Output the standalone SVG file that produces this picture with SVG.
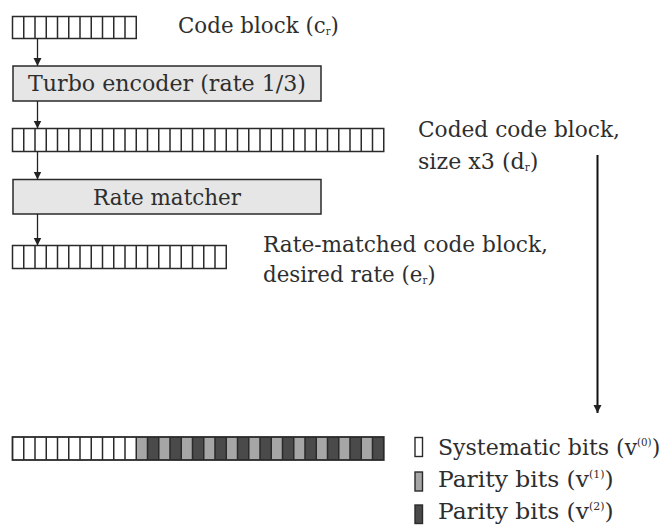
<svg xmlns="http://www.w3.org/2000/svg" width="666" height="525" viewBox="0 0 666 525">
  <style>
    .cells { fill: #ffffff; stroke: #2a2a2a; stroke-width: 1.5; }
    .div { stroke: #2a2a2a; stroke-width: 1.5; fill: none; }
    .box { fill: #e6e6e6; stroke: #2a2a2a; stroke-width: 1.5; }
    .lbl { font-family: "DejaVu Serif", "Liberation Serif", serif; font-size: 22.5px; fill: #2e2e2e; }
    .small { font-size: 10.5px; }
    .conn { stroke: #222222; stroke-width: 1.3; fill: none; }
    .conn-long { stroke: #111111; stroke-width: 2; fill: none; }
    .lt { fill: #a6a6a6; }
    .dk { fill: #4a4a4a; }
  </style>
  <defs>
    <marker id="head" markerUnits="userSpaceOnUse" markerWidth="8" markerHeight="11" refX="8" refY="4" orient="auto">
      <path d="M0,0 L8,4 L0,8 Z" fill="#222222"/>
    </marker>
  </defs>

  <!-- code block c_r : 11 bits -->
  <g id="code-block">
    <rect class="cells" x="12.5" y="16.5" width="123.75" height="22"/>
    <path class="div" d="M23.75,16.5v22M35,16.5v22M46.25,16.5v22M57.5,16.5v22M68.75,16.5v22M80,16.5v22M91.25,16.5v22M102.5,16.5v22M113.75,16.5v22M125,16.5v22"/>
    <text class="lbl" transform="translate(178,33) scale(0.95,1)">Code block (c<tspan class="small" dy="2">r</tspan><tspan dy="-2">)</tspan></text>
  </g>

  <!-- turbo encoder -->
  <g id="turbo-encoder">
    <rect class="box" x="13" y="66" width="308" height="35"/>
    <text class="lbl" x="167" y="90.5" text-anchor="middle" textLength="278" lengthAdjust="spacingAndGlyphs">Turbo encoder (rate 1/3)</text>
  </g>

  <!-- coded code block d_r : 33 bits -->
  <g id="coded-block">
    <rect class="cells" x="12.5" y="128.5" width="371.25" height="23"/>
    <path class="div" d="M23.75,128.5v23M35,128.5v23M46.25,128.5v23M57.5,128.5v23M68.75,128.5v23M80,128.5v23M91.25,128.5v23M102.5,128.5v23M113.75,128.5v23M125,128.5v23M136.25,128.5v23M147.5,128.5v23M158.75,128.5v23M170,128.5v23M181.25,128.5v23M192.5,128.5v23M203.75,128.5v23M215,128.5v23M226.25,128.5v23M237.5,128.5v23M248.75,128.5v23M260,128.5v23M271.25,128.5v23M282.5,128.5v23M293.75,128.5v23M305,128.5v23M316.25,128.5v23M327.5,128.5v23M338.75,128.5v23M350,128.5v23M361.25,128.5v23M372.5,128.5v23"/>
    <text class="lbl" x="418" y="137" textLength="202" lengthAdjust="spacingAndGlyphs">Coded code block,</text>
    <text class="lbl" transform="translate(418,168.5) scale(0.985,1)">size x3 (d<tspan class="small" dy="2">r</tspan><tspan dy="-2">)</tspan></text>
  </g>

  <!-- rate matcher -->
  <g id="rate-matcher">
    <rect class="box" x="13" y="179.5" width="308" height="34.5"/>
    <text class="lbl" x="167" y="205" text-anchor="middle" textLength="148" lengthAdjust="spacingAndGlyphs">Rate matcher</text>
  </g>

  <!-- rate-matched code block e_r : 19 bits -->
  <g id="rate-matched-block">
    <rect class="cells" x="12.5" y="245.5" width="213.75" height="23"/>
    <path class="div" d="M23.75,245.5v23M35,245.5v23M46.25,245.5v23M57.5,245.5v23M68.75,245.5v23M80,245.5v23M91.25,245.5v23M102.5,245.5v23M113.75,245.5v23M125,245.5v23M136.25,245.5v23M147.5,245.5v23M158.75,245.5v23M170,245.5v23M181.25,245.5v23M192.5,245.5v23M203.75,245.5v23M215,245.5v23"/>
    <text class="lbl" x="263" y="252" textLength="285" lengthAdjust="spacingAndGlyphs">Rate-matched code block,</text>
    <text class="lbl" transform="translate(263,282) scale(0.95,1)">desired rate (e<tspan class="small" dy="2">r</tspan><tspan dy="-2">)</tspan></text>
  </g>

  <!-- coded block layout: systematic bits then interleaved parity bits -->
  <g id="bit-layout">
    <rect fill="#ffffff" x="12.5" y="437" width="123.75" height="23"/>
    <rect class="lt" x="136.25" y="437" width="11.25" height="23"/>
    <rect class="dk" x="147.5" y="437" width="11.25" height="23"/>
    <rect class="lt" x="158.75" y="437" width="11.25" height="23"/>
    <rect class="dk" x="170" y="437" width="11.25" height="23"/>
    <rect class="lt" x="181.25" y="437" width="11.25" height="23"/>
    <rect class="dk" x="192.5" y="437" width="11.25" height="23"/>
    <rect class="lt" x="203.75" y="437" width="11.25" height="23"/>
    <rect class="dk" x="215" y="437" width="11.25" height="23"/>
    <rect class="lt" x="226.25" y="437" width="11.25" height="23"/>
    <rect class="dk" x="237.5" y="437" width="11.25" height="23"/>
    <rect class="lt" x="248.75" y="437" width="11.25" height="23"/>
    <rect class="dk" x="260" y="437" width="11.25" height="23"/>
    <rect class="lt" x="271.25" y="437" width="11.25" height="23"/>
    <rect class="dk" x="282.5" y="437" width="11.25" height="23"/>
    <rect class="lt" x="293.75" y="437" width="11.25" height="23"/>
    <rect class="dk" x="305" y="437" width="11.25" height="23"/>
    <rect class="lt" x="316.25" y="437" width="11.25" height="23"/>
    <rect class="dk" x="327.5" y="437" width="11.25" height="23"/>
    <rect class="lt" x="338.75" y="437" width="11.25" height="23"/>
    <rect class="dk" x="350" y="437" width="11.25" height="23"/>
    <rect class="lt" x="361.25" y="437" width="11.25" height="23"/>
    <rect class="dk" x="372.5" y="437" width="11.25" height="23"/>
    <rect fill="none" stroke="#2a2a2a" stroke-width="1.8" x="12.5" y="437" width="371.25" height="23"/>
    <path class="div" stroke-width="1.8" d="M23.75,437v23M35,437v23M46.25,437v23M57.5,437v23M68.75,437v23M80,437v23M91.25,437v23M102.5,437v23M113.75,437v23M125,437v23M136.25,437v23M147.5,437v23M158.75,437v23M170,437v23M181.25,437v23M192.5,437v23M203.75,437v23M215,437v23M226.25,437v23M237.5,437v23M248.75,437v23M260,437v23M271.25,437v23M282.5,437v23M293.75,437v23M305,437v23M316.25,437v23M327.5,437v23M338.75,437v23M350,437v23M361.25,437v23M372.5,437v23"/>
  </g>

  <!-- legend -->
  <g id="legend">
    <rect fill="#ffffff" stroke="#2a2a2a" stroke-width="1.4" x="415" y="437.5" width="7.5" height="19"/>
    <rect class="lt" stroke="#2a2a2a" stroke-width="1.4" x="415" y="472" width="7.5" height="19"/>
    <rect class="dk" stroke="#2a2a2a" stroke-width="1.4" x="415" y="505" width="7.5" height="18.5"/>
    <text class="lbl" transform="translate(438,455) scale(0.978,1)">Systematic bits (v<tspan class="small" dy="-9">(0)</tspan><tspan dy="9">)</tspan></text>
    <text class="lbl" transform="translate(438,487) scale(1.04,1)">Parity bits (v<tspan class="small" dy="-9">(1)</tspan><tspan dy="9">)</tspan></text>
    <text class="lbl" transform="translate(438,519) scale(1.04,1)">Parity bits (v<tspan class="small" dy="-9">(2)</tspan><tspan dy="9">)</tspan></text>
  </g>

  <!-- connectors -->
  <g id="connectors">
    <path class="conn" d="M37.5,38.5 V66" marker-end="url(#head)"/>
    <path class="conn" d="M37.5,101 V128.5" marker-end="url(#head)"/>
    <path class="conn" d="M37.5,151.5 V179.5" marker-end="url(#head)"/>
    <path class="conn" d="M37.5,214 V245.5" marker-end="url(#head)"/>
    <path class="conn-long" d="M597.5,155 V413" marker-end="url(#head)"/>
  </g>
</svg>
